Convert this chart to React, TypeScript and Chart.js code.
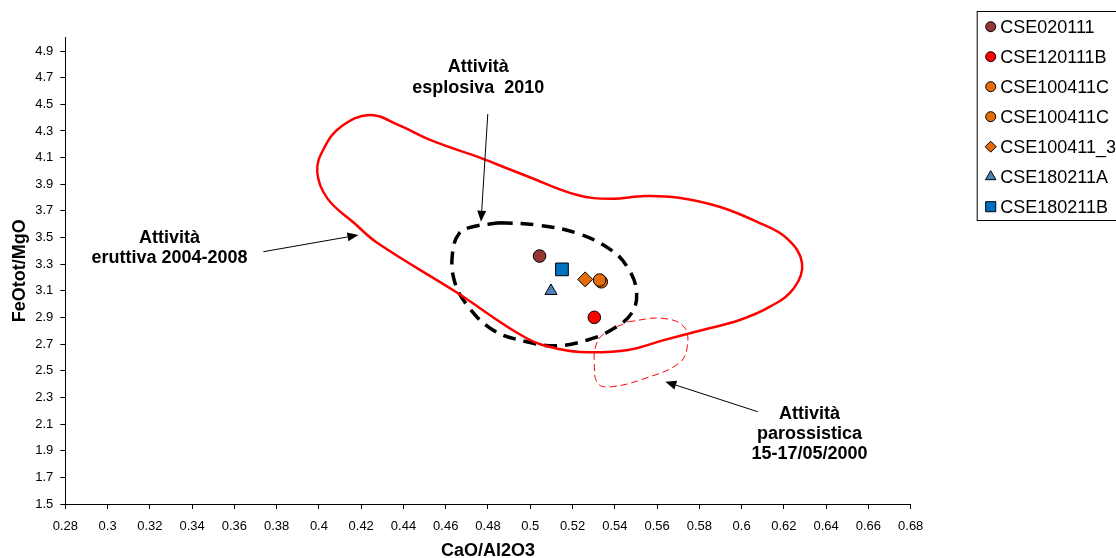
import React, { useEffect, useRef } from 'react';
import { Chart, registerables } from 'chart.js';

Chart.register(...registerables);

// ---------- axes ----------
const xMin = 0.28;
const xMax = 0.68;
const yMin = 1.5;
const yMax = 5.0;
const xTickValues = [0.28, 0.3, 0.32, 0.34, 0.36, 0.38, 0.4, 0.42, 0.44, 0.46, 0.48, 0.5, 0.52, 0.54, 0.56, 0.58, 0.6, 0.62, 0.64, 0.66, 0.68];
const yTickValues = [1.5, 1.7, 1.9, 2.1, 2.3, 2.5, 2.7, 2.9, 3.1, 3.3, 3.5, 3.7, 3.9, 4.1, 4.3, 4.5, 4.7, 4.9];
const xTitle = 'CaO/Al2O3';
const yTitle = 'FeOtot/MgO';

// ---------- samples ----------
const sampleNames = ['CSE020111', 'CSE120111B', 'CSE100411C', 'CSE100411C', 'CSE100411_3', 'CSE180211A', 'CSE180211B'];
const sampleX = [0.5044, 0.5303, 0.5336, 0.5328, 0.526, 0.5098, 0.515];
const sampleY = [3.361, 2.901, 3.168, 3.181, 3.186, 3.099, 3.261];

// sample styles
const sampleColors = ['#953735', '#FF0000', '#E46C0A', '#E46C0A', '#E46C0A', '#4F81BD', '#0070C0'];
const sampleShapes = ['circle', 'circle', 'circle', 'circle', 'rectRot', 'triangle', 'rect'];
const sampleRadius = [6.3, 6.3, 6.3, 6.3, 7.5, 7, 9];
const legendRadius = [5, 5, 5, 5, 5.5, 6, 7.1];

// ---------- fields (outlines) ----------
const eruttivaX = [0.4759, 0.4983, 0.5223, 0.5383, 0.5543, 0.5703, 0.5895, 0.6071, 0.6214, 0.6286, 0.6247, 0.6134, 0.5991, 0.5815, 0.5623, 0.5463, 0.5271, 0.5143, 0.4983, 0.4647, 0.4279, 0.4168, 0.404, 0.3992, 0.4024, 0.4104, 0.424, 0.4375, 0.4535, 0.4759];
const eruttivaY = [4.102, 3.962, 3.819, 3.791, 3.812, 3.799, 3.731, 3.619, 3.494, 3.307, 3.119, 2.981, 2.881, 2.806, 2.726, 2.656, 2.639, 2.661, 2.744, 3.093, 3.457, 3.607, 3.794, 3.994, 4.17, 4.332, 4.42, 4.345, 4.227, 4.102];

const esplosivaX = [0.4855, 0.5031, 0.5223, 0.5383, 0.5463, 0.5503, 0.5479, 0.5383, 0.5271, 0.5127, 0.4983, 0.4823, 0.4695, 0.464, 0.4632, 0.4664, 0.4727, 0.4855];
const esplosivaY = [3.611, 3.594, 3.532, 3.406, 3.269, 3.093, 2.931, 2.806, 2.731, 2.688, 2.718, 2.806, 3.006, 3.181, 3.382, 3.532, 3.581, 3.611];

const parossX = [0.5463, 0.5623, 0.5727, 0.5743, 0.5703, 0.5543, 0.5383, 0.5319, 0.5303, 0.5311, 0.5351, 0.5463];
const parossY = [2.868, 2.894, 2.831, 2.681, 2.556, 2.443, 2.38, 2.406, 2.556, 2.693, 2.781, 2.868];

// ---------- annotations (data coordinates) ----------
const noteEsplosiva = ['Attività', 'esplosiva  2010'];
const noteEruttiva = ['Attività', 'eruttiva 2004-2008'];
const notePaross = ['Attività', 'parossistica', '15-17/05/2000'];

const notes = [
  { lines: noteEsplosiva, x: 0.4754, y: [4.78, 4.622] },
  { lines: noteEruttiva, x: 0.3293, y: [3.4927, 3.3463] },
  { lines: notePaross, x: 0.6321, y: [2.1755, 2.0254, 1.8753] },
];
const arrows = [
  { x1: 0.4799, y1: 4.427, x2: 0.4767, y2: 3.619 },
  { x1: 0.3737, y1: 3.3936, x2: 0.4187, y2: 3.5189 },
  { x1: 0.6076, y1: 2.1927, x2: 0.5639, y2: 2.418 },
];

const FONT = '"Liberation Sans", Arial, sans-serif';

const zip = (xs: number[], ys: number[]) => xs.map((v, i) => ({ x: v, y: ys[i] }));

function markerPath(ctx: CanvasRenderingContext2D, shape: string, x: number, y: number, r: number) {
  ctx.beginPath();
  if (shape === 'circle') {
    ctx.arc(x, y, r, 0, Math.PI * 2);
  } else if (shape === 'rect') {
    const s = r * Math.SQRT1_2;
    ctx.rect(x - s, y - s, 2 * s, 2 * s);
  } else if (shape === 'rectRot') {
    ctx.moveTo(x - r, y);
    ctx.lineTo(x, y - r);
    ctx.lineTo(x + r, y);
    ctx.lineTo(x, y + r);
    ctx.closePath();
  } else if (shape === 'triangle') {
    for (let k = 0; k < 3; k++) {
      const a = -Math.PI / 2 + (k * 2 * Math.PI) / 3;
      const px = x + r * Math.cos(a);
      const py = y + r * Math.sin(a);
      if (k === 0) ctx.moveTo(px, py);
      else ctx.lineTo(px, py);
    }
    ctx.closePath();
  }
}

const annotationPlugin = {
  id: 'fieldAnnotations',
  afterDatasetsDraw(chart: any) {
    const { ctx } = chart;
    const xs = chart.scales.x;
    const ys = chart.scales.y;
    ctx.save();
    ctx.strokeStyle = '#000';
    ctx.fillStyle = '#000';
    ctx.lineWidth = 1;
    for (const a of arrows) {
      const x1 = xs.getPixelForValue(a.x1);
      const y1 = ys.getPixelForValue(a.y1);
      const x2 = xs.getPixelForValue(a.x2);
      const y2 = ys.getPixelForValue(a.y2);
      const ang = Math.atan2(y2 - y1, x2 - x1);
      const len = 11;
      const hw = 4.5;
      const bx = x2 - len * Math.cos(ang);
      const by = y2 - len * Math.sin(ang);
      ctx.beginPath();
      ctx.moveTo(x1, y1);
      ctx.lineTo(bx, by);
      ctx.stroke();
      ctx.beginPath();
      ctx.moveTo(x2, y2);
      ctx.lineTo(bx + hw * Math.sin(ang), by - hw * Math.cos(ang));
      ctx.lineTo(bx - hw * Math.sin(ang), by + hw * Math.cos(ang));
      ctx.closePath();
      ctx.fill();
    }
    ctx.font = 'bold 18px ' + FONT;
    ctx.textAlign = 'center';
    ctx.textBaseline = 'middle';
    for (const n of notes) {
      const px = xs.getPixelForValue(n.x);
      n.lines.forEach((line, i) => {
        ctx.fillText(line, px, ys.getPixelForValue(n.y[i]));
      });
    }
    ctx.restore();
  },
};

const legendPlugin = {
  id: 'boxLegend',
  afterDraw(chart: any) {
    const { ctx, chartArea } = chart;
    const left = chartArea.right + 66.5;
    const top = 11.5;
    const rowH = 30;
    const firstY = 26.7;
    ctx.save();
    ctx.fillStyle = '#fff';
    ctx.fillRect(left, top, 300, 209);
    ctx.strokeStyle = '#000';
    ctx.lineWidth = 1;
    ctx.strokeRect(left, top, 300, 209);
    ctx.font = '18px ' + FONT;
    ctx.textAlign = 'left';
    ctx.textBaseline = 'middle';
    sampleNames.forEach((name, i) => {
      const cy = firstY + i * rowH;
      markerPath(ctx, sampleShapes[i], left + 13.5, cy, legendRadius[i]);
      ctx.fillStyle = sampleColors[i];
      ctx.fill();
      ctx.strokeStyle = '#000';
      ctx.stroke();
      ctx.fillStyle = '#000';
      ctx.fillText(name, left + 23, cy + 1);
    });
    ctx.restore();
  },
};

export default function App() {
  const ref = useRef<HTMLCanvasElement>(null);

  useEffect(() => {
    if (!ref.current) return;

    const sampleSets = sampleNames.map((name, i) => ({
      label: name,
      data: [{ x: sampleX[i], y: sampleY[i] }],
      pointStyle: sampleShapes[i],
      pointRadius: sampleRadius[i],
      backgroundColor: sampleColors[i],
      borderColor: '#000',
      borderWidth: 1,
      showLine: false,
      order: 50 - i,
    }));

    const outline = (label: string, xs: number[], ys: number[], color: string, width: number, dash: number[]) => ({
      label,
      data: zip(xs, ys),
      showLine: true,
      pointRadius: 0,
      borderColor: color,
      borderWidth: width,
      borderDash: dash,
      backgroundColor: 'transparent',
      fill: false,
      tension: 0.4,
      order: 100,
    });

    const gridCfg = {
      display: true,
      drawOnChartArea: false,
      drawTicks: true,
      tickLength: 5,
      color: '#000',
      lineWidth: 1,
    };

    const chart = new Chart(ref.current, {
      type: 'scatter',
      data: {
        datasets: [
          ...sampleSets,
          outline('Attività eruttiva 2004-2008', eruttivaX, eruttivaY, '#FF0000', 2.5, []),
          outline('Attività esplosiva 2010', esplosivaX, esplosivaY, '#000000', 3.5, [13, 8]),
          outline('Attività parossistica 15-17/05/2000', parossX, parossY, '#FF0000', 1, [7, 4]),
        ] as any,
      },
      options: {
        responsive: false,
        animation: false,
        events: [],
        layout: { padding: { left: 0, top: 37.7, right: 205.3, bottom: 0 } },
        plugins: {
          legend: { display: false },
          tooltip: { enabled: false },
        },
        scales: {
          x: {
            type: 'linear',
            position: 'bottom',
            min: xMin,
            max: xMax,
            afterBuildTicks: (s: any) => {
              s.ticks = xTickValues.map((v) => ({ value: v }));
            },
            afterFit: (s: any) => {
              s.height = 54;
            },
            ticks: {
              autoSkip: false,
              maxRotation: 0,
              padding: 10,
              color: '#000',
              font: { family: FONT, size: 13 },
              callback: (v: any) => String(v),
            },
            grid: gridCfg,
            border: { display: true, color: '#000', width: 1 },
            title: {
              display: true,
              text: xTitle,
              color: '#000',
              font: { family: FONT, size: 18, weight: 'bold' },
              padding: { top: 0, bottom: -4 },
            },
          },
          y: {
            type: 'linear',
            min: yMin,
            max: yMax,
            afterBuildTicks: (s: any) => {
              s.ticks = yTickValues.map((v) => ({ value: v }));
            },
            afterFit: (s: any) => {
              s.width = 65.3;
            },
            ticks: {
              autoSkip: false,
              padding: 7,
              color: '#000',
              font: { family: FONT, size: 13 },
              callback: (v: any) => String(v),
            },
            grid: gridCfg,
            border: { display: true, color: '#000', width: 1 },
            title: {
              display: true,
              text: yTitle,
              color: '#000',
              font: { family: FONT, size: 18, weight: 'bold' },
              padding: { top: 9, bottom: 0 },
            },
          },
        },
      } as any,
      plugins: [annotationPlugin, legendPlugin],
    });

    return () => chart.destroy();
  }, []);

  return (
    <div style={{ position: 'absolute', left: 0, top: 0, width: 1116, height: 558, overflow: 'hidden', background: '#fff' }}>
      <canvas ref={ref} width={1116} height={558} style={{ display: 'block' }} />
    </div>
  );
}
